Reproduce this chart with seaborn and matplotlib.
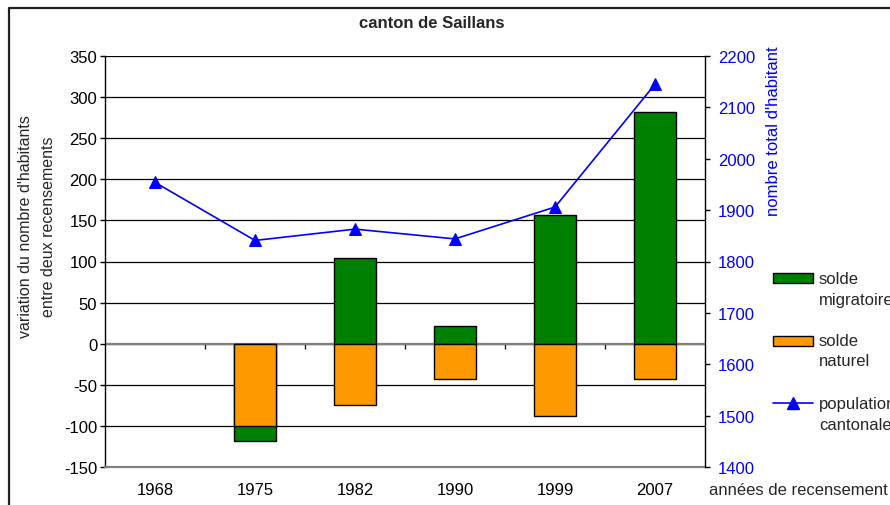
import numpy as np
import pandas as pd
import matplotlib
matplotlib.use("Agg")
import matplotlib.pyplot as plt
from matplotlib.patches import Rectangle
from matplotlib.lines import Line2D
import seaborn as sns

# Census years and components of population change, canton de Saillans
years = ["1968", "1975", "1982", "1990", "1999", "2007"]
solde_migratoire = [np.nan, -18, 104, 21, 156, 282]
solde_naturel = [np.nan, -100, -75, -43, -88, -43]
population = [1954, 1841, 1863, 1844, 1906, 2145]

GREEN = "#008000"
ORANGE = "#FF9900"
BLUE = "#0000FF"
FS = 12

sns.set_style("ticks")
plt.rcParams["font.family"] = ["Liberation Sans", "DejaVu Sans"]
plt.rcParams["axes.unicode_minus"] = False

W, H = 890, 506
fig = plt.figure(figsize=(W / 100, H / 100), dpi=100)


def fx(x):
    return x / W


def fy(y):
    return 1 - y / H


ax = fig.add_axes([fx(105), fy(468), fx(705) - fx(105), fy(57) - fy(468)])

df = pd.DataFrame({"annee": years, "migr": solde_migratoire, "nat": solde_naturel})
# Excel-style stacking: a negative migration balance sits under the natural balance
df["migr_top"] = np.where(df["migr"] >= 0, df["migr"], df["nat"] + df["migr"])

sns.barplot(data=df, x="annee", y="migr_top", order=years, color=GREEN,
            saturation=1, width=0.42, edgecolor="black", linewidth=1,
            errorbar=None, ax=ax, zorder=3)
sns.barplot(data=df, x="annee", y="nat", order=years, color=ORANGE,
            saturation=1, width=0.42, edgecolor="black", linewidth=1,
            errorbar=None, ax=ax, zorder=3)

ax.set_xlim(-0.5, 5.5)
ax.set_ylim(-150, 350)
ax.set_yticks(np.arange(-150, 351, 50))
ax.yaxis.grid(True, color="black", linewidth=0.9)
ax.set_axisbelow(True)
ax.axhline(0, color="#808080", linewidth=1.6, zorder=2)
ax.set_xlabel("")
ax.set_ylabel("")

for side in ["top", "right"]:
    ax.spines[side].set_visible(False)
ax.spines["left"].set_color("black")
ax.spines["left"].set_linewidth(1.0)
ax.spines["bottom"].set_color("#808080")
ax.spines["bottom"].set_linewidth(1.6)

ax.tick_params(axis="y", direction="out", length=3.6, width=1, pad=2,
               labelsize=FS, colors="black")
ax.tick_params(axis="x", length=0, pad=10.5, labelsize=FS, colors="black")

# Tick marks between categories, on the zero line
sec = ax.secondary_xaxis(150 / 500)
sec.set_xticks(np.arange(0.5, 5, 1.0))
sec.set_xticklabels([])
sec.tick_params(axis="x", direction="out", length=3.6, width=1, color="#202020")
sec.spines["bottom"].set_visible(False)

# Total population on the right axis
ax2 = ax.twinx()
sns.lineplot(x=np.arange(len(years)), y=population, ax=ax2, color=BLUE,
             marker="^", markersize=8, markeredgecolor=BLUE, linewidth=1.2,
             zorder=5)
ax2.set_ylim(1400, 2200)
ax2.set_yticks(np.arange(1400, 2201, 100))
ax2.set_xlim(-0.5, 5.5)
for side in ["top", "left", "bottom"]:
    ax2.spines[side].set_visible(False)
ax2.spines["right"].set_color("black")
ax2.spines["right"].set_linewidth(1.0)
ax2.tick_params(axis="y", direction="out", length=3.6, width=1, pad=5.5,
                labelsize=FS, labelcolor=BLUE, color="black")
ax2.set_ylabel("")

# Titles and axis captions
fig.text(fx(432), fy(24), "canton de Saillans", ha="center", va="center",
         fontsize=FS, fontweight="bold")
fig.text(fx(37), fy(227), "variation du nombre d'habitants\nentre deux recensements",
         rotation=90, ha="center", va="center", fontsize=11.5,
         multialignment="center", linespacing=1.6)
fig.text(fx(773), fy(131), "nombre total d'habitant", rotation=90,
         ha="center", va="center", fontsize=FS, color=BLUE)
fig.text(fx(709), fy(491), "années de recensement", ha="left", va="center",
         fontsize=FS)

# Legend
def legend_patch(y0, y1, color):
    fig.add_artist(Rectangle((fx(773), fy(y1)), fx(813) - fx(773), fy(y0) - fy(y1),
                             transform=fig.transFigure, facecolor=color,
                             edgecolor="black", linewidth=1))


legend_patch(274, 284, GREEN)
legend_patch(337, 347, ORANGE)
fig.add_artist(Line2D([fx(773), fx(813)], [fy(404), fy(404)],
                      transform=fig.transFigure, color=BLUE, linewidth=1.2))
fig.add_artist(Line2D([fx(793)], [fy(404)], transform=fig.transFigure,
                      color=BLUE, marker="^", markersize=8, linestyle="none"))
for y, label in [(279, "solde"), (300, "migratoire"), (341, "solde"),
                 (362, "naturel"), (404, "population"), (425, "cantonale")]:
    fig.text(fx(819), fy(y), label, ha="left", va="center", fontsize=FS)

# Chart frame
fig.add_artist(Line2D([fx(9), fx(9), fx(W + 5)], [fy(H + 5), fy(9), fy(9)],
                      transform=fig.transFigure, color="#202020", linewidth=1.6))

fig.savefig("out.png", dpi=100, facecolor="white")
